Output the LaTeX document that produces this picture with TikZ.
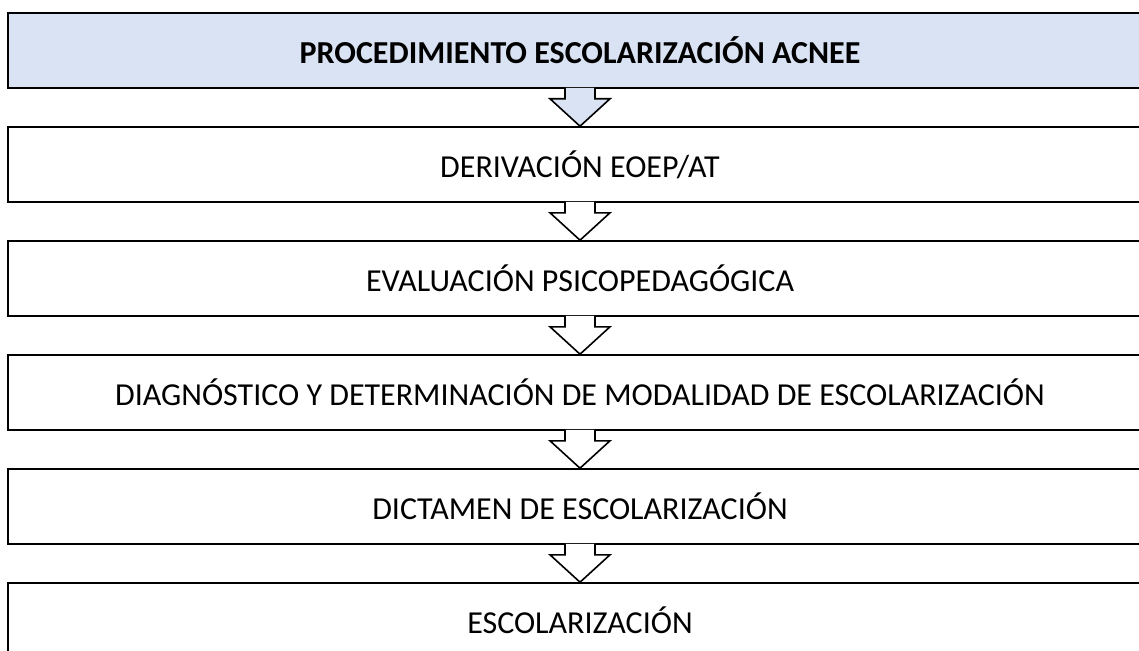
\documentclass[tikz,border=0pt]{standalone}
\usepackage{fontspec}
\setmainfont{Carlito}
\usetikzlibrary{positioning,calc}
\definecolor{paleblue}{HTML}{DAE3F3}

\begin{document}
\begin{tikzpicture}[x=1pt,y=-1pt,node distance=114pt,on grid,
  stage/.style={draw,line width=1.6pt,minimum width=1144pt,minimum height=75pt,
    inner sep=0pt,font=\fontsize{32}{38}\selectfont},
  flow/.style={line width=1.6pt,line join=miter}]
  \useasboundingbox (0,0) rectangle (1139,650);
  \clip (0,0) rectangle (1139,650);
  \node[stage,fill=paleblue,font=\fontsize{32}{38}\selectfont\bfseries] (s1) at (580,50.5) {PROCEDIMIENTO ESCOLARIZACIÓN ACNEE};
  \node[stage] (s2) [below = of s1] {DERIVACIÓN EOEP/AT};
  \node[stage] (s3) [below = of s2] {EVALUACIÓN PSICOPEDAGÓGICA};
  \node[stage] (s4) [below = of s3] {DIAGNÓSTICO Y DETERMINACIÓN DE MODALIDAD DE ESCOLARIZACIÓN};
  \node[stage] (s5) [below = of s4] {DICTAMEN DE ESCOLARIZACIÓN};
  \node[stage] (s6) [below = of s5] {ESCOLARIZACIÓN};
  % block arrows between the stages
  \foreach \a/\b/\c in {s1/s2/paleblue,s2/s3/white,s3/s4/white,s4/s5/white,s5/s6/white}
    \filldraw[flow,fill=\c] ($(\a.south)+(-15,-1)$) -- ($(\a.south)+(-15,10)$)
      -- ($(\a.south)+(-30,10)$) -- (\b.north) -- ($(\a.south)+(30,10)$)
      -- ($(\a.south)+(15,10)$) -- ($(\a.south)+(15,-1)$);
\end{tikzpicture}
\end{document}
